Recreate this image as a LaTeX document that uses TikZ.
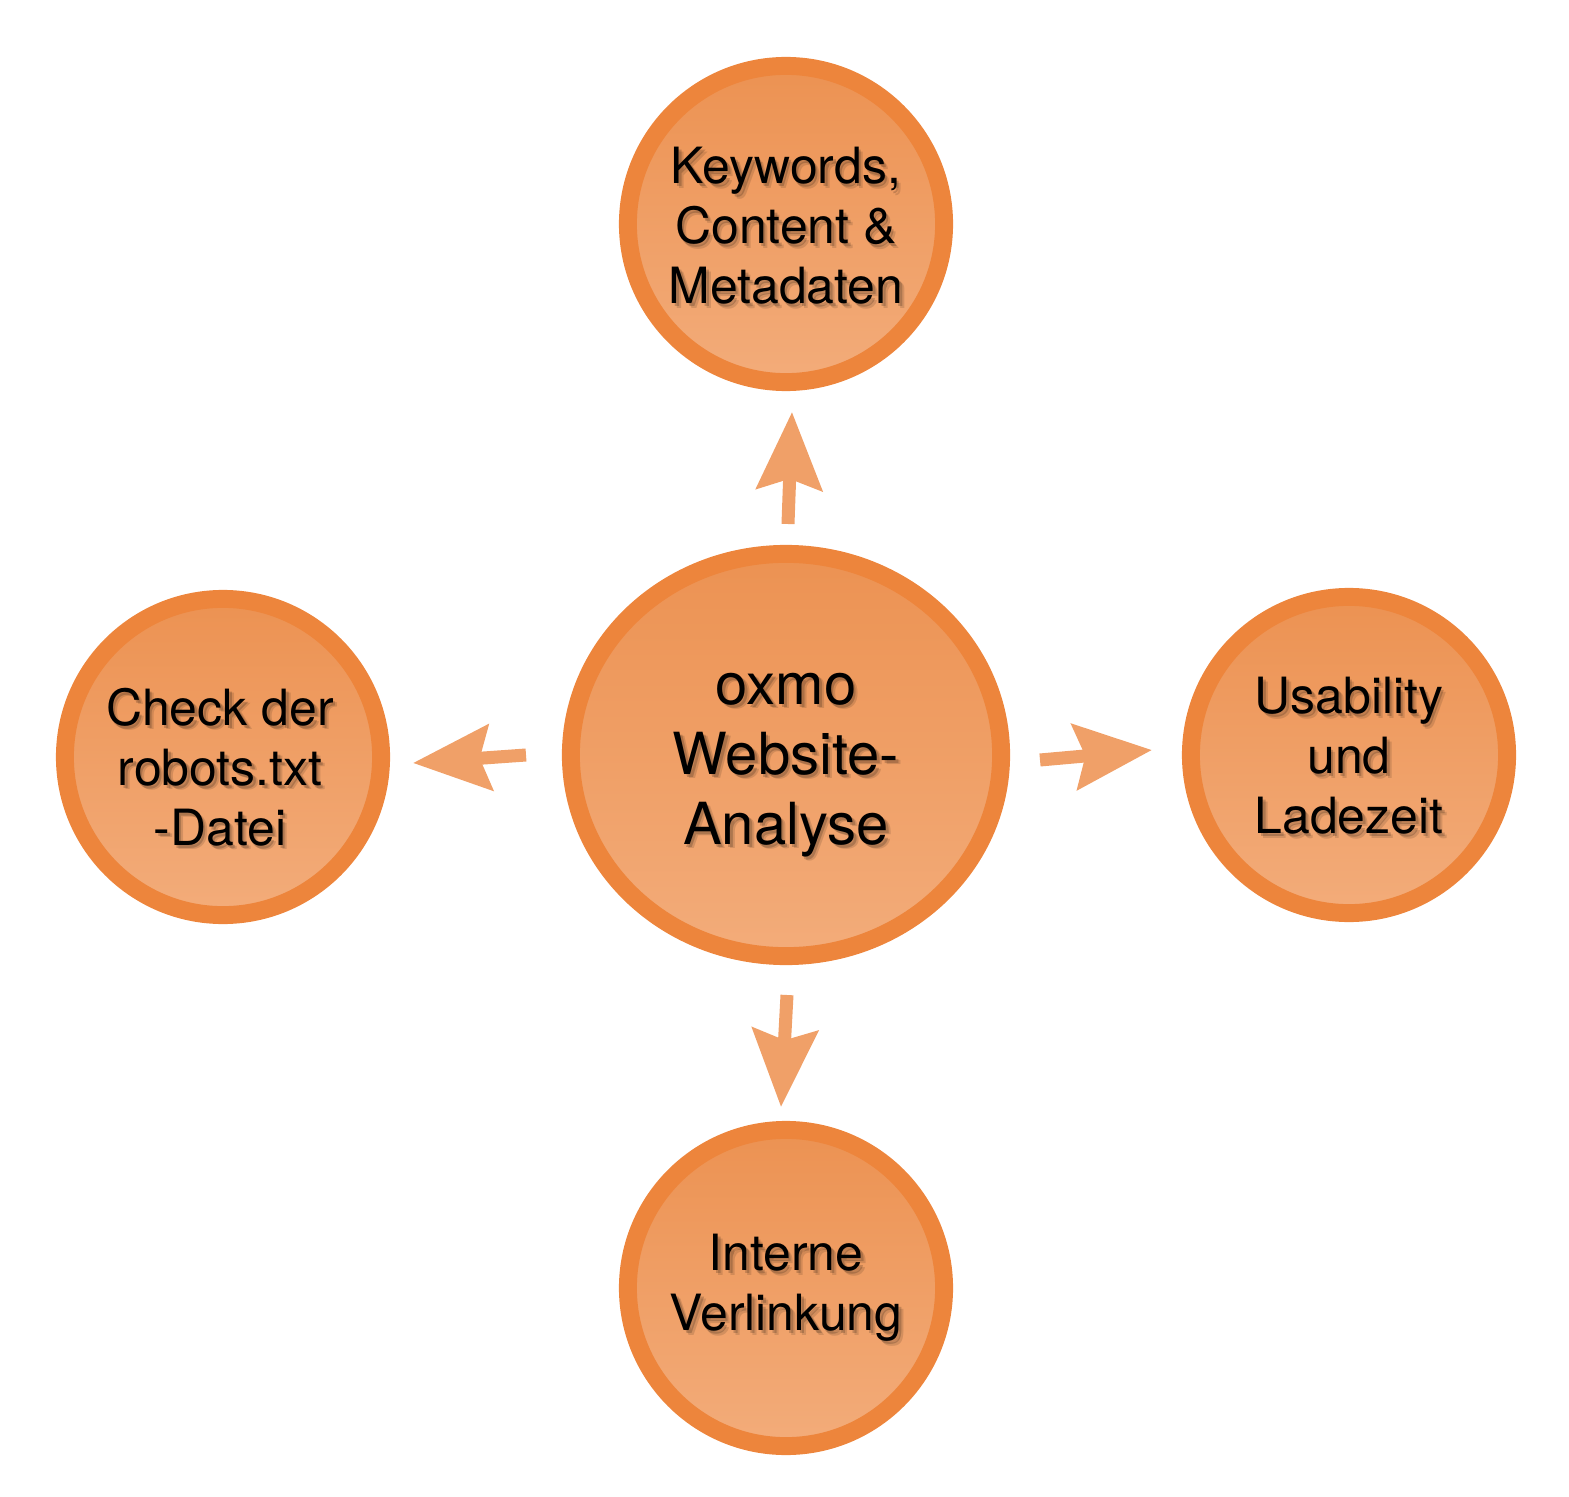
\documentclass[tikz,border=0pt]{standalone}
\usepackage{fontspec}
\setmainfont{TeX Gyre Heros}
\usetikzlibrary{shapes.geometric,arrows.meta}
\definecolor{ring}{RGB}{237,133,60}
\definecolor{filltop}{RGB}{236,146,82}
\definecolor{fillbot}{RGB}{243,172,122}
\definecolor{arrowc}{RGB}{240,160,104}
\newcommand{\shadowlabel}[4]{%
  \node[#3, text=black, opacity=0.12, xshift=0.045cm, yshift=-0.045cm] at #2 {#4};
  \node[#3, text=black, opacity=0.18, xshift=0.025cm, yshift=-0.03cm] at #2 {#4};
  \node[#3] (#1) at #2 {#4};}
\begin{document}
\begin{tikzpicture}[x=0.01cm,y=-0.01cm,
  bubble/.style={circle, draw=ring, line width=5.1pt, top color=filltop, bottom color=fillbot, minimum size=3.16cm, inner sep=0pt},
  hub/.style={ellipse, draw=ring, line width=5.1pt, top color=filltop, bottom color=fillbot, minimum width=4.30cm, minimum height=4.02cm, inner sep=0pt},
  lbl/.style={align=center, inner sep=0pt, font=\fontsize{14.2}{17.1}\selectfont},
  hublbl/.style={align=center, inner sep=0pt, font=\fontsize{16.5}{19.9}\selectfont},
  fat/.style={draw=arrowc, line width=3.7pt, -{Stealth[length=22pt, width=18.5pt, inset=3pt, fill=arrowc]}}
]
\useasboundingbox (0,0) rectangle (1569,1497);
% circles
\node[hub] (center) at (786,755) {};
\node[bubble] (top) at (786,224) {};
\node[bubble] (left) at (223,757) {};
\node[bubble] (right) at (1349,755) {};
\node[bubble] (bottom) at (786,1288) {};
% labels
\shadowlabel{centerT}{(786,765)}{hublbl}{oxmo\\Website-\\Analyse}
\shadowlabel{topT}{(786,226)}{lbl}{Keywords,\\Content \&\\Metadaten}
\shadowlabel{leftT}{(220,767)}{lbl}{Check der\\robots.txt\\-Datei}
\shadowlabel{rightT}{(1349,756)}{lbl}{Usability\\und\\Ladezeit}
\shadowlabel{bottomT}{(786,1288)}{lbl}{Interne\\Verlinkung}
% arrows
\coordinate (upS) at (788,524);
\coordinate (upE) at (792,412);
\coordinate (leftS) at (526,755);
\coordinate (leftE) at (413,763);
\coordinate (downS) at (787,995);
\coordinate (downE) at (781,1107);
\coordinate (rightS) at (1040,760);
\coordinate (rightE) at (1152,750);
\draw[fat] (upS) -- (upE);
\draw[fat] (leftS) -- (leftE);
\draw[fat] (downS) -- (downE);
\draw[fat] (rightS) -- (rightE);
\end{tikzpicture}
\end{document}
